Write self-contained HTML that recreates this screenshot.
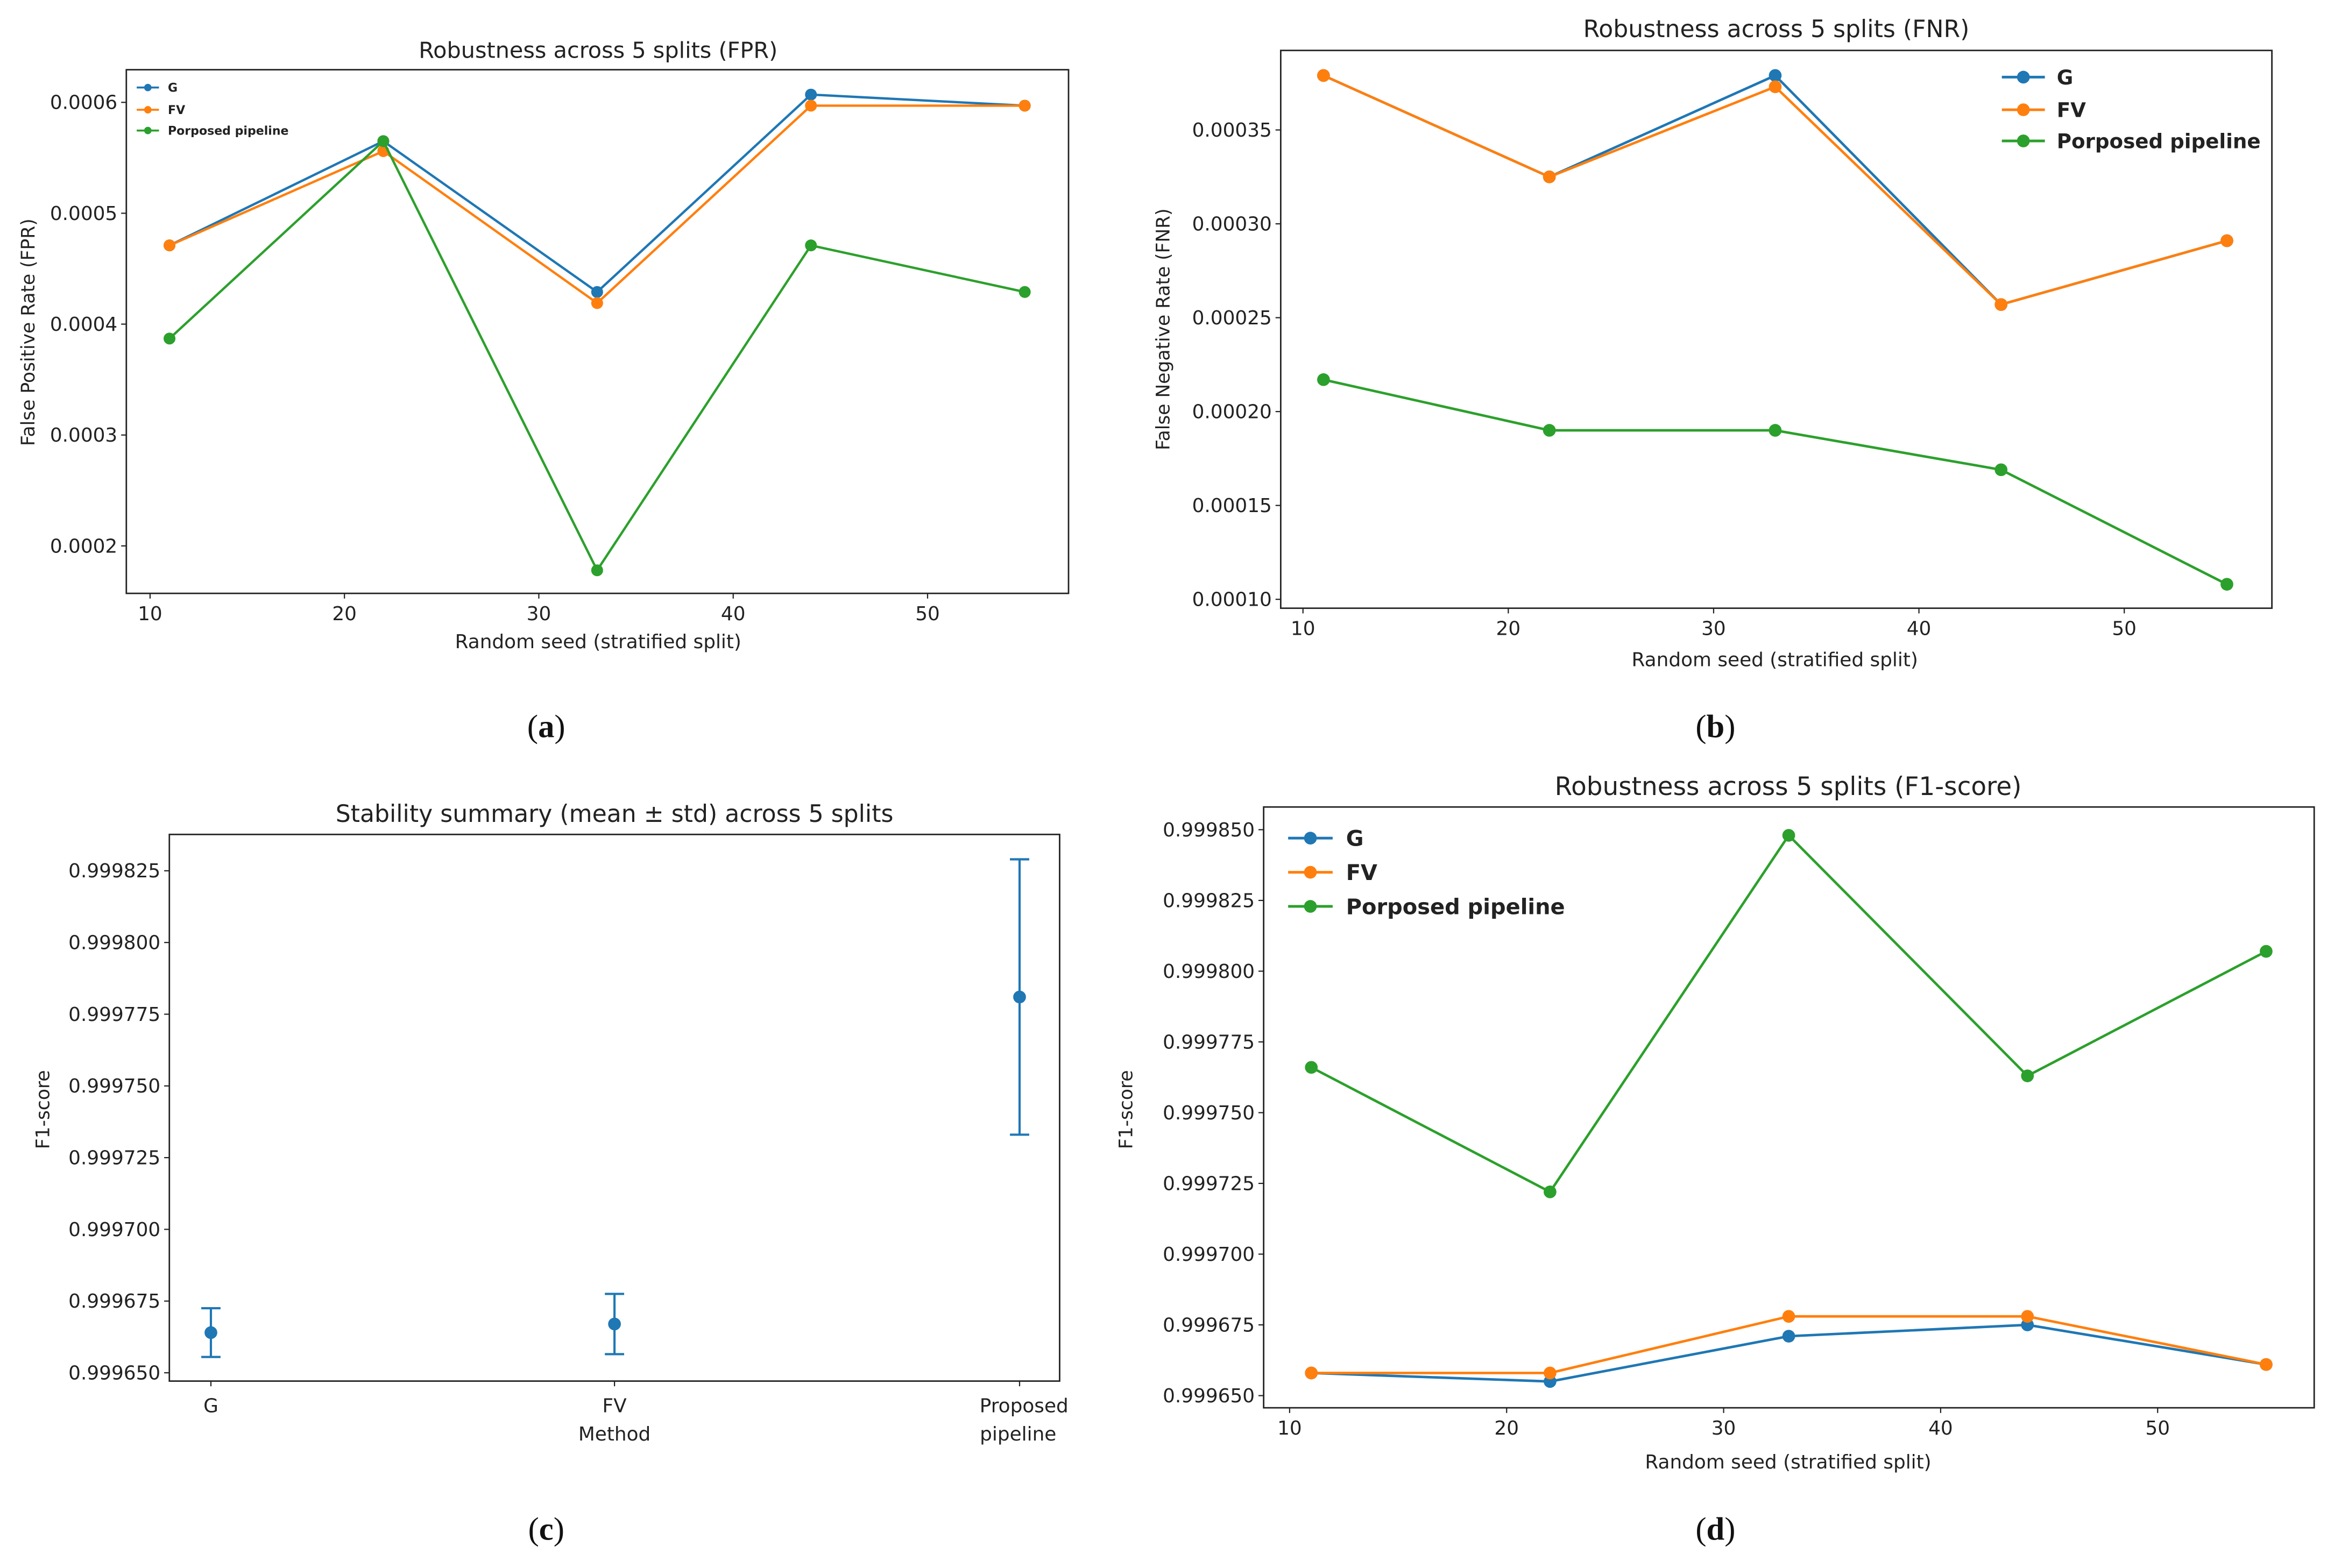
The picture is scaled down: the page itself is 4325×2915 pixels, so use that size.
<!DOCTYPE html>
<html><head><meta charset="utf-8"><style>
html,body{margin:0;padding:0;background:#fff;}
svg{display:block;}
text{font-family:"DejaVu Sans","Liberation Sans",sans-serif;fill:#222;}
.pl{font-family:"Liberation Serif",serif;font-size:22px;fill:#111;}
</style></head><body>
<svg id="fig" xmlns="http://www.w3.org/2000/svg" width="4325" height="2915" viewBox="0 0 1568 1057">
<rect x="0" y="0" width="1568" height="1057" fill="#fff"/>
<text class="pl" x="368" y="497" text-anchor="middle">(<tspan font-weight="bold">a</tspan>)</text>
<text class="pl" x="1156" y="497" text-anchor="middle">(<tspan font-weight="bold">b</tspan>)</text>
<text class="pl" x="368" y="1038" text-anchor="middle">(<tspan font-weight="bold">c</tspan>)</text>
<text class="pl" x="1156" y="1038" text-anchor="middle">(<tspan font-weight="bold">d</tspan>)</text>
</svg>
<script>
// ---- data ----
const seeds = [11, 22, 33, 44, 55];
const seriesNames = ["G", "FV", "Porposed pipeline"];
const fprG = [0.000471, 0.000565, 0.000429, 0.000607, 0.000597];
const fprFV = [0.000471, 0.000556, 0.000419, 0.000597, 0.000597];
const fprP = [0.000387, 0.000565, 0.000178, 0.000471, 0.000429];
const fnrG = [0.000379, 0.000325, 0.000379, 0.000257, 0.000291];
const fnrFV = [0.000379, 0.000325, 0.000373, 0.000257, 0.000291];
const fnrP = [0.000217, 0.000190, 0.000190, 0.000169, 0.000108];
const f1G = [0.999658, 0.999655, 0.999671, 0.999675, 0.999661];
const f1FV = [0.999658, 0.999658, 0.999678, 0.999678, 0.999661];
const f1P = [0.999766, 0.999722, 0.999848, 0.999763, 0.999807];
const methods = ["G", "FV", "Proposed pipeline"];
const methodMean = [0.999664, 0.999667, 0.999781];
const methodStd = [0.0000085, 0.0000105, 0.000048];
const xTicks = [10, 20, 30, 40, 50];
const fprTicks = [0.0002, 0.0003, 0.0004, 0.0005, 0.0006];
const fprTickLabels = ["0.0002", "0.0003", "0.0004", "0.0005", "0.0006"];
const fnrTicks = [0.0001, 0.00015, 0.0002, 0.00025, 0.0003, 0.00035];
const fnrTickLabels = ["0.00010", "0.00015", "0.00020", "0.00025", "0.00030", "0.00035"];
const f1cTicks = [0.99965, 0.999675, 0.9997, 0.999725, 0.99975, 0.999775, 0.9998, 0.999825];
const f1cTickLabels = ["0.999650", "0.999675", "0.999700", "0.999725", "0.999750", "0.999775", "0.999800", "0.999825"];
const f1dTicks = [0.99965, 0.999675, 0.9997, 0.999725, 0.99975, 0.999775, 0.9998, 0.999825, 0.99985];
const f1dTickLabels = ["0.999650", "0.999675", "0.999700", "0.999725", "0.999750", "0.999775", "0.999800", "0.999825", "0.999850"];

const COLORS = ["#1f77b4", "#ff7f0e", "#2ca02c"];
const NS = "http://www.w3.org/2000/svg";
const svg = document.getElementById("fig");
function mk(tag, attrs, parent) {
  const e = document.createElementNS(NS, tag);
  for (const k in attrs) e.setAttribute(k, attrs[k]);
  (parent || svg).appendChild(e);
  return e;
}
function lin(d0, p0, d1, p1) { return v => p0 + (v - d0) * (p1 - p0) / (d1 - d0); }

function axesFrame(g, P) {
  const r = mk("rect", {x: P.L, y: P.T, width: P.R - P.L, height: P.B - P.T, fill: "none", stroke: "#222", "stroke-width": 1}, g);
  
  
}
function yAxis(g, P, y, ticks, labels) {
  ticks.forEach((t, i) => {
    const yy = y(t);
    const l = mk("line", {x1: P.L - 3.5, x2: P.L, y1: yy, y2: yy, stroke: "#222", "stroke-width": 0.8}, g);
    
    
    const tx = mk("text", {x: P.L - 6, y: yy + 4.5, "text-anchor": "end", "font-size": 13}, g);
    tx.textContent = labels[i];
    
    
  });
}
function xAxis(g, P, x, ticks) {
  ticks.forEach(t => {
    const xx = x(t);
    const l = mk("line", {x1: xx, x2: xx, y1: P.B, y2: P.B + 3.5, stroke: "#222", "stroke-width": 0.8}, g);
    
    
    const tx = mk("text", {x: xx, y: P.B + 18, "text-anchor": "middle", "font-size": 13}, g);
    tx.textContent = String(t);
    
    
  });
}
function labels(g, title, tfs, tx, ty, xl, xlx, xly, yl, ylx, yly) {
  const t = mk("text", {x: tx, y: ty, "text-anchor": "middle", "font-size": tfs}, g);
  t.textContent = title;
  
  
  if (xl) {
    const a = mk("text", {x: xlx, y: xly, "text-anchor": "middle", "font-size": 13}, g);
    a.textContent = xl;
    
    
  }
  const b = mk("text", {x: 0, y: 0, "text-anchor": "middle", "font-size": 12.5, transform: "translate(" + ylx + "," + yly + ") rotate(-90)"}, g);
  b.textContent = yl;
  
  
}
function series(g, x, y, vals, color, r, lw) {
  const pts = seeds.map((s, i) => x(s) + "," + y(vals[i])).join(" ");
  const pl = mk("polyline", {points: pts, fill: "none", stroke: color, "stroke-width": lw}, g);
  
  
  seeds.forEach((s, i) => {
    const c = mk("circle", {cx: x(s), cy: y(vals[i]), r: r, fill: color}, g);
    
    
  });
}
function legend(g, x0, x1, tx, ys, fs, r, lw) {
  seriesNames.forEach((n, i) => {
    const l = mk("line", {x1: x0, x2: x1, y1: ys[i], y2: ys[i], stroke: COLORS[i], "stroke-width": lw}, g);
    
    
    const c = mk("circle", {cx: (x0 + x1) / 2, cy: ys[i], r: r, fill: COLORS[i]}, g);
    
    
    const t = mk("text", {x: tx, y: ys[i] + fs * 0.36, "font-size": fs, "font-weight": "bold"}, g);
    t.textContent = n;
    
    
  });
}

// ---- panel a ----
{
  const g = mk("g", {});
  
  
  const P = {L: 85, R: 720, T: 47, B: 400};
  const x = lin(10, 101, 50, 625);
  const y = lin(0.0002, 368, 0.0006, 69);
  axesFrame(g, P);
  yAxis(g, P, y, fprTicks, fprTickLabels);
  xAxis(g, P, x, xTicks);
  labels(g, "Robustness across 5 splits (FPR)", 15, 403, 39, "Random seed (stratified split)", 403, 437, "False Positive Rate (FPR)", 23, 224);
  series(g, x, y, fprG, COLORS[0], 4, 1.6);
  series(g, x, y, fprFV, COLORS[1], 4, 1.6);
  series(g, x, y, fprP, COLORS[2], 4, 1.6);
  legend(g, 92, 107, 113, [59, 74, 88], 8, 2.5, 1.3);
}
// ---- panel b ----
{
  const g = mk("g", {});
  
  
  const P = {L: 863, R: 1531, T: 34, B: 410};
  const x = lin(10, 878, 50, 1431.5);
  const y = lin(0.0001, 404, 0.00035, 87.6);
  axesFrame(g, P);
  yAxis(g, P, y, fnrTicks, fnrTickLabels);
  xAxis(g, P, x, xTicks);
  labels(g, "Robustness across 5 splits (FNR)", 16, 1197, 25, "Random seed (stratified split)", 1196, 449, "False Negative Rate (FNR)", 788, 222);
  series(g, x, y, fnrG, COLORS[0], 4.3, 1.7);
  series(g, x, y, fnrFV, COLORS[1], 4.3, 1.7);
  series(g, x, y, fnrP, COLORS[2], 4.3, 1.7);
  legend(g, 1349, 1378, 1386, [52, 74, 95], 13.5, 4.3, 1.8);
}
// ---- panel c ----
{
  const g = mk("g", {});
  
  
  const P = {L: 114, R: 714, T: 562.5, B: 931};
  const xs = [142, 414, 687];
  const y = lin(0.99965, 925.4, 0.999825, 587);
  axesFrame(g, P);
  yAxis(g, P, y, f1cTicks, f1cTickLabels);
  methods.forEach((m, i) => {
    const l = mk("line", {x1: xs[i], x2: xs[i], y1: P.B, y2: P.B + 3.5, stroke: "#222", "stroke-width": 0.8}, g);
    
    
    if (i < 2) {
      const t = mk("text", {x: xs[i], y: 952, "text-anchor": "middle", "font-size": 13}, g);
      t.textContent = m;
      
      
    } else {
      const t = mk("text", {x: xs[i] + 3, y: 952, "text-anchor": "middle", "font-size": 13}, g);
      t.textContent = "Proposed";
      
      
      const t2 = mk("text", {x: xs[i] - 1, y: 971, "text-anchor": "middle", "font-size": 13}, g);
      t2.textContent = "pipeline";
      
      
    }
    const lo = methodMean[i] - methodStd[i], hi = methodMean[i] + methodStd[i];
    const e = mk("line", {x1: xs[i], x2: xs[i], y1: y(lo), y2: y(hi), stroke: COLORS[0], "stroke-width": 1.5}, g);
    
    
    [lo, hi].forEach(v => {
      const cap = mk("line", {x1: xs[i] - 6.5, x2: xs[i] + 6.5, y1: y(v), y2: y(v), stroke: COLORS[0], "stroke-width": 1.5}, g);
      
      
    });
    const c = mk("circle", {cx: xs[i], cy: y(methodMean[i]), r: 4.3, fill: COLORS[0]}, g);
    
    
  });
  labels(g, "Stability summary (mean ± std) across 5 splits", 16, 414, 554, "Method", 414, 971, "F1-score", 33, 748);
}
// ---- panel d ----
{
  const g = mk("g", {});
  
  
  const P = {L: 851.5, R: 1559.5, T: 544, B: 949};
  const x = lin(10, 869, 50, 1454);
  const y = lin(0.99965, 940.8, 0.99985, 559.3);
  axesFrame(g, P);
  yAxis(g, P, y, f1dTicks, f1dTickLabels);
  xAxis(g, P, x, xTicks);
  labels(g, "Robustness across 5 splits (F1-score)", 17, 1205, 536, "Random seed (stratified split)", 1205, 990, "F1-score", 763, 748);
  series(g, x, y, f1G, COLORS[0], 4.3, 1.7);
  series(g, x, y, f1FV, COLORS[1], 4.3, 1.7);
  series(g, x, y, f1P, COLORS[2], 4.3, 1.7);
  legend(g, 868, 898, 907, [565, 588, 611], 14.5, 4.3, 1.8);
}
</script>
</body></html>
